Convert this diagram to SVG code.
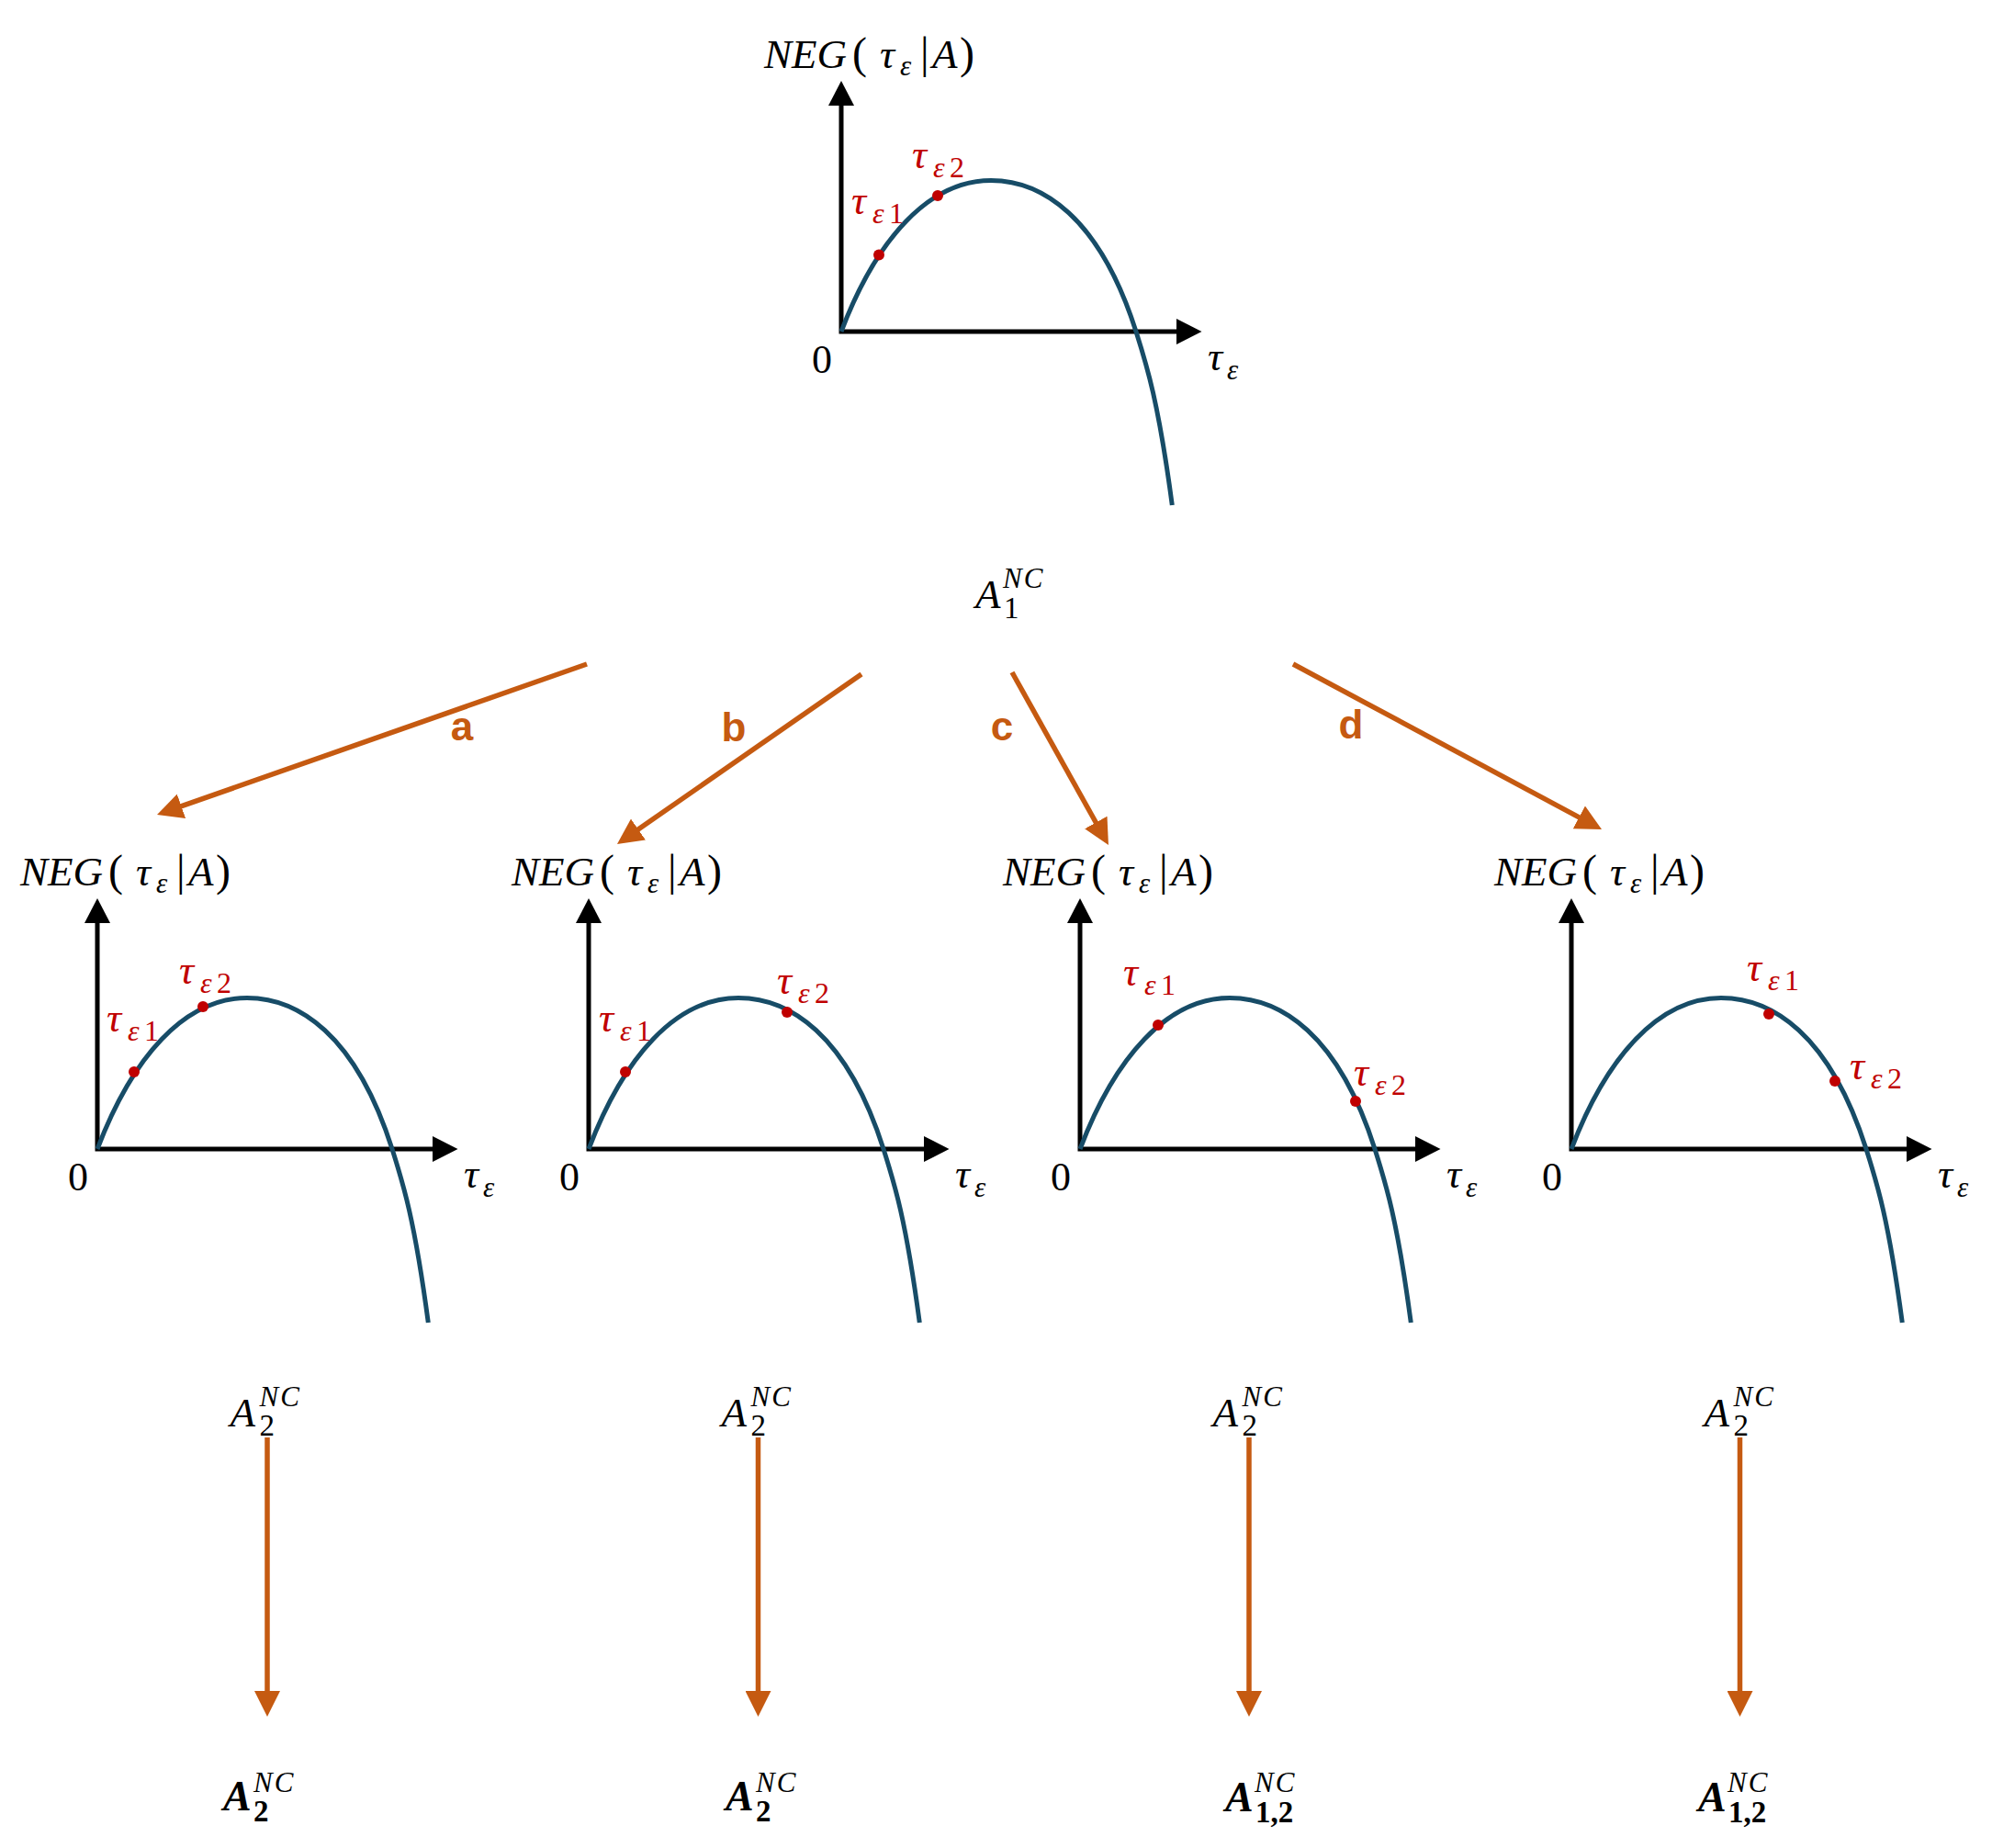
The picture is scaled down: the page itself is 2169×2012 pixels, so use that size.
<svg xmlns="http://www.w3.org/2000/svg" width="2169" height="2012" viewBox="0 0 2169 2012">
<style>
.ax{stroke:#000;stroke-width:5;fill:none;stroke-linejoin:miter}
.ah{fill:#000}
.cv{stroke:#174C67;stroke-width:5;fill:none}
.dot{fill:#C00000}
.m{font-family:"Liberation Serif","DejaVu Serif",serif;fill:#000}
.i{font-style:italic}
.red{fill:#C00000}
.b{font-weight:bold}
.zero{font-family:"Liberation Serif","DejaVu Serif",serif;font-size:44px;text-anchor:middle;fill:#000}
.conn{stroke:#C55A11;stroke-width:5.5;fill:none;marker-end:url(#oa)}
.lbl{font-family:"Liberation Sans",Arial,sans-serif;font-weight:bold;font-size:44px;fill:#C55A11;text-anchor:middle}
</style>
<defs>
<marker id="oa" markerUnits="userSpaceOnUse" markerWidth="28" markerHeight="28" refX="8" refY="14" orient="auto" viewBox="0 0 28 28">
<path d="M0,0 L28,14 L0,28 z" fill="#C55A11"/>
</marker>
<path id="curve" d="M0,0 C38,-100 95,-164.5 163,-164.5 C218,-164.5 281,-125.6 321,0 C333,37.7 345.3,76.5 360.3,189"/>
</defs>
<rect width="2169" height="2012" fill="#fff"/>

<g id="graph-top">
<path class="ax" d="M916,114 V361 H1282"/>
<polygon class="ah" points="902,115 916,88 930,115"/>
<polygon class="ah" points="1281,347 1308.5,361 1281,375"/>
<use href="#curve" x="916" y="361" class="cv"/>
<circle class="dot" cx="957" cy="277.5" r="6"/>
<circle class="dot" cx="1021" cy="213" r="6"/>
<text class="m" y="74" font-size="45"><tspan class="i" x="832">NEG</tspan><tspan x="928" font-size="48">(</tspan><tspan class="i" x="958">τ</tspan><tspan class="i" x="980" y="82" font-size="31">ε</tspan><tspan x="1002" y="74" font-size="48">|</tspan><tspan class="i" x="1015">A</tspan><tspan x="1045" font-size="48">)</tspan></text>
<text class="zero" x="895" y="406">0</text>
<text class="m i" x="1315" y="403" font-size="45">τ<tspan x="1336" y="413" font-size="31">ε</tspan></text>
<text class="m red" y="233" font-size="45"><tspan class="i" x="927">τ</tspan><tspan class="i" x="950" y="243" font-size="32">ε</tspan><tspan x="968" font-size="32">1</tspan></text>
<text class="m red" y="183" font-size="45"><tspan class="i" x="993">τ</tspan><tspan class="i" x="1016" y="193" font-size="32">ε</tspan><tspan x="1034" font-size="32">2</tspan></text>
</g>

<g id="node-A1">
<text class="m" font-size="45"><tspan class="i" x="1062" y="662">A</tspan><tspan x="1093" y="673" font-size="33">1</tspan><tspan class="i" x="1092" y="640" font-size="31" letter-spacing="2">NC</tspan></text>
</g>

<g id="graph-a">
<path class="ax" d="M106,1004 V1251 H472"/>
<polygon class="ah" points="92,1005 106,978 120,1005"/>
<polygon class="ah" points="471,1237 498.5,1251 471,1265"/>
<use href="#curve" x="106" y="1251" class="cv"/>
<circle class="dot" cx="146" cy="1167" r="6"/>
<circle class="dot" cx="221" cy="1096" r="6"/>
<text class="m" y="964" font-size="45"><tspan class="i" x="22">NEG</tspan><tspan x="118" font-size="48">(</tspan><tspan class="i" x="148">τ</tspan><tspan class="i" x="170" y="972" font-size="31">ε</tspan><tspan x="192" y="964" font-size="48">|</tspan><tspan class="i" x="205">A</tspan><tspan x="235" font-size="48">)</tspan></text>
<text class="zero" x="85" y="1296">0</text>
<text class="m i" x="505" y="1293" font-size="45">τ<tspan x="526" y="1303" font-size="31">ε</tspan></text>
<text class="m red" y="1123" font-size="45"><tspan class="i" x="116">τ</tspan><tspan class="i" x="139" y="1133" font-size="32">ε</tspan><tspan x="157" font-size="32">1</tspan></text>
<text class="m red" y="1071" font-size="45"><tspan class="i" x="195">τ</tspan><tspan class="i" x="218" y="1081" font-size="32">ε</tspan><tspan x="236" font-size="32">2</tspan></text>
</g>

<g id="graph-b">
<path class="ax" d="M641,1004 V1251 H1007"/>
<polygon class="ah" points="627,1005 641,978 655,1005"/>
<polygon class="ah" points="1006,1237 1033.5,1251 1006,1265"/>
<use href="#curve" x="641" y="1251" class="cv"/>
<circle class="dot" cx="681" cy="1167" r="6"/>
<circle class="dot" cx="857" cy="1102" r="6"/>
<text class="m" y="964" font-size="45"><tspan class="i" x="557">NEG</tspan><tspan x="653" font-size="48">(</tspan><tspan class="i" x="683">τ</tspan><tspan class="i" x="705" y="972" font-size="31">ε</tspan><tspan x="727" y="964" font-size="48">|</tspan><tspan class="i" x="740">A</tspan><tspan x="770" font-size="48">)</tspan></text>
<text class="zero" x="620" y="1296">0</text>
<text class="m i" x="1040" y="1293" font-size="45">τ<tspan x="1061" y="1303" font-size="31">ε</tspan></text>
<text class="m red" y="1123" font-size="45"><tspan class="i" x="652">τ</tspan><tspan class="i" x="675" y="1133" font-size="32">ε</tspan><tspan x="693" font-size="32">1</tspan></text>
<text class="m red" y="1082" font-size="45"><tspan class="i" x="846">τ</tspan><tspan class="i" x="869" y="1092" font-size="32">ε</tspan><tspan x="887" font-size="32">2</tspan></text>
</g>

<g id="graph-c">
<path class="ax" d="M1176,1004 V1251 H1542"/>
<polygon class="ah" points="1162,1005 1176,978 1190,1005"/>
<polygon class="ah" points="1541,1237 1568.5,1251 1541,1265"/>
<use href="#curve" x="1176" y="1251" class="cv"/>
<circle class="dot" cx="1261" cy="1116" r="6"/>
<circle class="dot" cx="1476" cy="1199" r="6"/>
<text class="m" y="964" font-size="45"><tspan class="i" x="1092">NEG</tspan><tspan x="1188" font-size="48">(</tspan><tspan class="i" x="1218">τ</tspan><tspan class="i" x="1240" y="972" font-size="31">ε</tspan><tspan x="1262" y="964" font-size="48">|</tspan><tspan class="i" x="1275">A</tspan><tspan x="1305" font-size="48">)</tspan></text>
<text class="zero" x="1155" y="1296">0</text>
<text class="m i" x="1575" y="1293" font-size="45">τ<tspan x="1596" y="1303" font-size="31">ε</tspan></text>
<text class="m red" y="1073" font-size="45"><tspan class="i" x="1223">τ</tspan><tspan class="i" x="1246" y="1083" font-size="32">ε</tspan><tspan x="1264" font-size="32">1</tspan></text>
<text class="m red" y="1182" font-size="45"><tspan class="i" x="1474">τ</tspan><tspan class="i" x="1497" y="1192" font-size="32">ε</tspan><tspan x="1515" font-size="32">2</tspan></text>
</g>

<g id="graph-d">
<path class="ax" d="M1711,1004 V1251 H2077"/>
<polygon class="ah" points="1697,1005 1711,978 1725,1005"/>
<polygon class="ah" points="2076,1237 2103.5,1251 2076,1265"/>
<use href="#curve" x="1711" y="1251" class="cv"/>
<circle class="dot" cx="1926" cy="1104" r="6"/>
<circle class="dot" cx="1998" cy="1177" r="6"/>
<text class="m" y="964" font-size="45"><tspan class="i" x="1627">NEG</tspan><tspan x="1723" font-size="48">(</tspan><tspan class="i" x="1753">τ</tspan><tspan class="i" x="1775" y="972" font-size="31">ε</tspan><tspan x="1797" y="964" font-size="48">|</tspan><tspan class="i" x="1810">A</tspan><tspan x="1840" font-size="48">)</tspan></text>
<text class="zero" x="1690" y="1296">0</text>
<text class="m i" x="2110" y="1293" font-size="45">τ<tspan x="2131" y="1303" font-size="31">ε</tspan></text>
<text class="m red" y="1068" font-size="45"><tspan class="i" x="1902">τ</tspan><tspan class="i" x="1925" y="1078" font-size="32">ε</tspan><tspan x="1943" font-size="32">1</tspan></text>
<text class="m red" y="1175" font-size="45"><tspan class="i" x="2014">τ</tspan><tspan class="i" x="2037" y="1185" font-size="32">ε</tspan><tspan x="2055" font-size="32">2</tspan></text>
</g>

<g id="node-A2-a"><text class="m" font-size="45"><tspan class="i" x="250.5" y="1553">A</tspan><tspan x="282.5" y="1563" font-size="33">2</tspan><tspan class="i" x="282.5" y="1531" font-size="31" letter-spacing="2">NC</tspan></text></g>
<g id="node-A2-b"><text class="m" font-size="45"><tspan class="i" x="785.5" y="1553">A</tspan><tspan x="817.5" y="1563" font-size="33">2</tspan><tspan class="i" x="817.5" y="1531" font-size="31" letter-spacing="2">NC</tspan></text></g>
<g id="node-A2-c"><text class="m" font-size="45"><tspan class="i" x="1320.5" y="1553">A</tspan><tspan x="1352.5" y="1563" font-size="33">2</tspan><tspan class="i" x="1352.5" y="1531" font-size="31" letter-spacing="2">NC</tspan></text></g>
<g id="node-A2-d"><text class="m" font-size="45"><tspan class="i" x="1855.5" y="1553">A</tspan><tspan x="1887.5" y="1563" font-size="33">2</tspan><tspan class="i" x="1887.5" y="1531" font-size="31" letter-spacing="2">NC</tspan></text></g>

<g id="node-res-a"><text class="m" font-size="46"><tspan class="i b" x="243" y="1971">A</tspan><tspan class="b" x="276" y="1983" font-size="33">2</tspan><tspan class="i" x="276" y="1951" font-size="31" letter-spacing="2">NC</tspan></text></g>
<g id="node-res-b"><text class="m" font-size="46"><tspan class="i b" x="790" y="1971">A</tspan><tspan class="b" x="823" y="1983" font-size="33">2</tspan><tspan class="i" x="823" y="1951" font-size="31" letter-spacing="2">NC</tspan></text></g>
<g id="node-res-c"><text class="m" font-size="46"><tspan class="i b" x="1334" y="1972">A</tspan><tspan class="b" x="1367" y="1984" font-size="33">1,2</tspan><tspan class="i" x="1366" y="1951" font-size="31" letter-spacing="2">NC</tspan></text></g>
<g id="node-res-d"><text class="m" font-size="46"><tspan class="i b" x="1849" y="1972">A</tspan><tspan class="b" x="1882" y="1984" font-size="33">1,2</tspan><tspan class="i" x="1881" y="1951" font-size="31" letter-spacing="2">NC</tspan></text></g>

<g id="connectors">
<line class="conn" x1="639" y1="723" x2="189.9" y2="880.4"/>
<line class="conn" x1="938" y1="734" x2="688.4" y2="907.6"/>
<line class="conn" x1="1102" y1="732" x2="1197.2" y2="902.5"/>
<line class="conn" x1="1408" y1="723" x2="1726.4" y2="893.6"/>
<text class="lbl" x="503" y="806">a</text>
<text class="lbl" x="799" y="807">b</text>
<text class="lbl" x="1091" y="806">c</text>
<text class="lbl" x="1471" y="804">d</text>
<line class="conn" x1="291" y1="1565" x2="291" y2="1849"/>
<line class="conn" x1="825.5" y1="1565" x2="825.5" y2="1849"/>
<line class="conn" x1="1360" y1="1565" x2="1360" y2="1849"/>
<line class="conn" x1="1894.5" y1="1565" x2="1894.5" y2="1849"/>
</g>
</svg>
